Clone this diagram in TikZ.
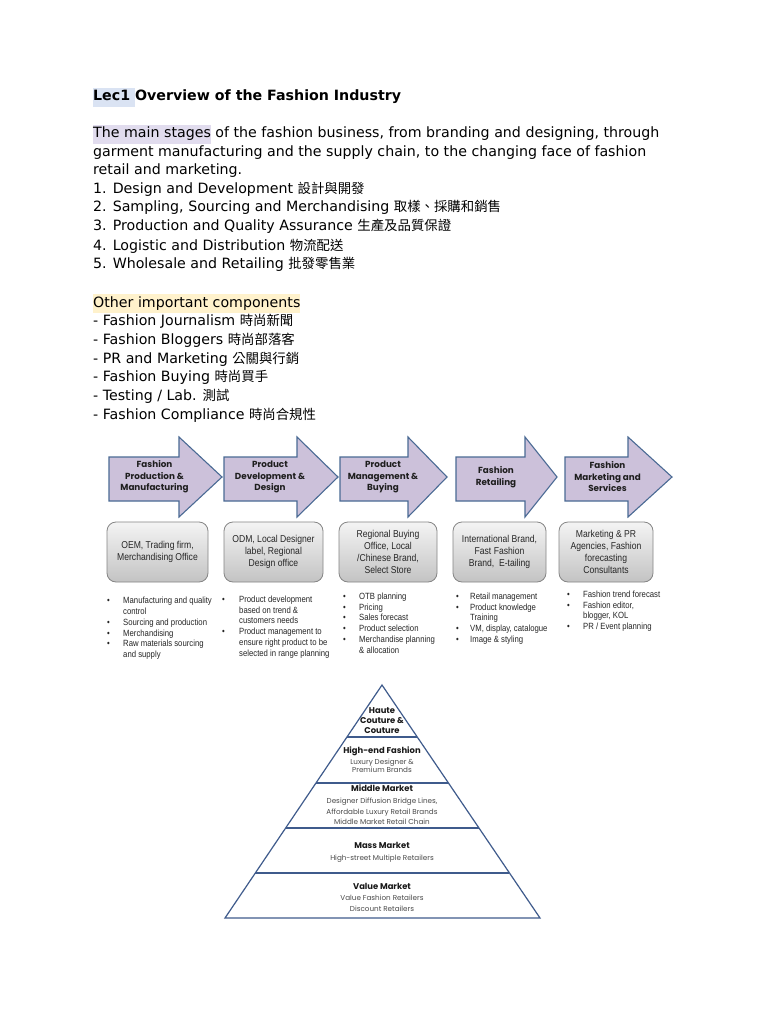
\documentclass[tikz,border=0pt]{standalone}
\usepackage{fontspec}
\setmainfont{DejaVu Sans}
\newfontfamily\cjk{Noto Sans CJK TC}
\newfontfamily\narrowsans[FakeStretch=0.86]{Liberation Sans}
\newfontfamily\gothic{Poppins}
\usetikzlibrary{calc}
\definecolor{hlblue}{HTML}{DAE3F3}
\definecolor{hlpurple}{HTML}{E1DCEE}
\definecolor{hlyellow}{HTML}{FFF2CC}
\definecolor{arrowfill}{HTML}{CCC1DA}
\definecolor{arrowline}{HTML}{4A6A94}
\definecolor{labeldark}{HTML}{1E1E1E}
\definecolor{boxline}{HTML}{858585}
\definecolor{boxtop}{HTML}{F4F4F4}
\definecolor{boxbot}{HTML}{C3C3C3}
\definecolor{pyrline}{HTML}{3F5B8C}
\definecolor{subgray}{HTML}{4A4A4A}
\newcommand\hlbox[2]{{\setlength{\fboxsep}{0pt}\colorbox{#1}{\strut#2}}}
\newcommand\zh[1]{{\cjk\fontsize{13.4}{18.7}\selectfont #1}}
\newcommand\bitem[2]{\strut\makebox[#1][l]{\textbullet}#2}
\begin{document}
\begin{tikzpicture}[x=1pt,y=-1pt,
  txt/.style={anchor=base west, inner sep=0pt, font=\fontsize{14.2}{18.7}\selectfont},
  stagearrow/.style={fill=arrowfill, draw=arrowline, line width=1.1pt, line join=miter},
  arrowlabel/.style={align=center, inner sep=0pt, text=labeldark, font=\gothic\bfseries\fontsize{8.8}{11.5}\selectfont},
  stagebox/.style={draw=boxline, line width=0.8pt, rounded corners=9pt, top color=boxtop, bottom color=boxbot, align=center, inner sep=0pt, text=black!85, minimum height=60pt, font=\narrowsans\fontsize{10}{12}\selectfont},
  bullets/.style={anchor=north west, align=left, inner sep=0pt, text=black!85, font=\narrowsans\fontsize{9}{10.8}\selectfont},
  pyr/.style={draw=pyrline, line width=1.2pt},
  pyrhead/.style={anchor=base, inner sep=0pt, text=black!90, font=\gothic\bfseries\fontsize{8.4}{10}\selectfont},
  pyrsub/.style={anchor=base, inner sep=0pt, text=subgray, font=\gothic\fontsize{7.2}{9}\selectfont}
]
\path[use as bounding box, fill=white] (0,0) rectangle (768,1024);

% ---------- text ----------
\node[txt] (title) at (93,101) {\bfseries\hlbox{hlblue}{Lec1 }Overview of the Fashion Industry};
\node[txt] (p1) at (93,138) {\hlbox{hlpurple}{The main stages} of the fashion business, from branding and designing, through};
\node[txt] (p2) at (93,157) {garment manufacturing and the supply chain, to the changing face of fashion};
\node[txt] (p3) at (93,175) {retail and marketing.};
\node[txt] (s1) at (93,194) {1. Design and Development \zh{設計與開發}};
\node[txt] (s2) at (93,212) {2. Sampling, Sourcing and Merchandising \zh{取樣、採購和銷售}};
\node[txt] (s3) at (93,231) {3. Production and Quality Assurance \zh{生產及品質保證}};
\node[txt] (s4) at (93,250) {4. Logistic and Distribution \zh{物流配送}};
\node[txt] (s5) at (93,268) {5. Wholesale and Retailing \zh{批發零售業}};
\node[txt] (o0) at (93,307) {\hlbox{hlyellow}{Other important components}};
\node[txt] (o1) at (93,325) {- Fashion Journalism \zh{時尚新聞}};
\node[txt] (o2) at (93,344) {- Fashion Bloggers \zh{時尚部落客}};
\node[txt] (o3) at (93,363) {- PR and Marketing \zh{公關與行銷}};
\node[txt] (o4) at (93,381) {- Fashion Buying \zh{時尚買手}};
\node[txt] (o5) at (93,400) {- Testing / Lab. \zh{測試}};
\node[txt] (o6) at (93,419) {- Fashion Compliance \zh{時尚合規性}};

% ---------- stage arrows ----------
\path[stagearrow] (109,457) -- (179,457) -- (179,437) -- (222,477) -- (179,517) -- (179,501) -- (109,501) -- cycle;
\path[stagearrow] (224,457) -- (297,457) -- (297,437) -- (338,477) -- (297,517) -- (297,501) -- (224,501) -- cycle;
\path[stagearrow] (340,457) -- (408,457) -- (408,437) -- (447,477) -- (408,517) -- (408,501) -- (340,501) -- cycle;
\path[stagearrow] (456,457) -- (525,457) -- (525,437) -- (557,477) -- (525,517) -- (525,501) -- (456,501) -- cycle;
\path[stagearrow] (565,457) -- (628,457) -- (628,437) -- (672,477) -- (628,517) -- (628,501) -- (565,501) -- cycle;
\node[arrowlabel] (a1) at (154.5,477) {Fashion\\Production \&\\Manufacturing};
\node[arrowlabel] (a2) at (270,477) {Product\\Development \&\\Design};
\node[arrowlabel] (a3) at (383,477) {Product\\Management \&\\Buying};
\node[arrowlabel] (a4) at (496,477) {Fashion\\Retailing};
\node[arrowlabel] (a5) at (607.5,477) {Fashion\\Marketing and\\Services};

% ---------- stage boxes ----------
\node[stagebox, minimum width=101pt] (b1) at (157.5,552) {OEM, Trading firm,\\Merchandising Office};
\node[stagebox, minimum width=99pt] (b2) at (273.5,552) {ODM, Local Designer\\label, Regional\\Design office};
\node[stagebox, minimum width=98pt] (b3) at (388,552) {Regional Buying\\Office, Local\\/Chinese Brand,\\Select Store};
\node[stagebox, minimum width=93pt] (b4) at (499.5,552) {International Brand,\\Fast Fashion\\Brand,\ \ E-tailing};
\node[stagebox, minimum width=94pt] (b5) at (606,552) {Marketing \& PR\\Agencies, Fashion\\forecasting\\Consultants};

% ---------- bullet lists ----------
\node[bullets] (l1) at (107,596) {\bitem{16pt}{Manufacturing and quality}\\\hspace*{16pt}control\\\bitem{16pt}{Sourcing and production}\\\bitem{16pt}{Merchandising}\\\bitem{16pt}{Raw materials sourcing}\\\hspace*{16pt}and supply};
\node[bullets] (l2) at (222,594.5) {\bitem{17pt}{Product development}\\\hspace*{17pt}based on trend \&\\\hspace*{17pt}customers needs\\\bitem{17pt}{Product management to}\\\hspace*{17pt}ensure right product to be\\\hspace*{17pt}selected in range planning};
\node[bullets] (l3) at (343,591.5) {\bitem{16pt}{OTB planning}\\\bitem{16pt}{Pricing}\\\bitem{16pt}{Sales forecast}\\\bitem{16pt}{Product selection}\\\bitem{16pt}{Merchandise planning}\\\hspace*{16pt}\& allocation};
\node[bullets] (l4) at (456,591.5) {\bitem{14pt}{Retail management}\\\bitem{14pt}{Product knowledge}\\\hspace*{14pt}Training\\\bitem{14pt}{VM, display, catalogue}\\\bitem{14pt}{Image \& styling}};
\node[bullets] (l5) at (567,589.5) {\bitem{16pt}{Fashion trend forecast}\\\bitem{16pt}{Fashion editor,}\\\hspace*{16pt}blogger, KOL\\\bitem{16pt}{PR / Event planning}};

% ---------- pyramid ----------
\coordinate (apex) at (382,685);
\coordinate (bl) at (225,918);
\coordinate (br) at (540,918);
\draw[pyr, line join=miter] (apex) -- (bl) -- (br) -- cycle;
\foreach \t in {0.2232,0.4206,0.6137,0.8069}
  \draw[pyr] ($(apex)!\t!(bl)$) -- ($(apex)!\t!(br)$);

\node[align=center, inner sep=0pt, text=black!90, font=\gothic\bfseries\fontsize{8.4}{10}\selectfont] (t1) at (382,721) {Haute\\Couture \&\\Couture};
\node[pyrhead] (t2) at (382,753) {High-end Fashion};
\node[pyrsub] (t2a) at (382,764) {Luxury Designer \&};
\node[pyrsub] (t2b) at (382,772.5) {Premium Brands};
\node[pyrhead] (t3) at (382,791.5) {Middle Market};
\node[pyrsub] (t3a) at (382,803.5) {Designer Diffusion Bridge Lines,};
\node[pyrsub] (t3b) at (382,814.5) {Affordable Luxury Retail Brands};
\node[pyrsub] (t3c) at (382,824.5) {Middle Market Retail Chain};
\node[pyrhead] (t4) at (382,848) {Mass Market};
\node[pyrsub] (t4a) at (382,860) {High-street Multiple Retailers};
\node[pyrhead] (t5) at (382,889) {Value Market};
\node[pyrsub] (t5a) at (382,900) {Value Fashion Retailers};
\node[pyrsub] (t5b) at (382,911) {Discount Retailers};
\end{tikzpicture}
\end{document}
